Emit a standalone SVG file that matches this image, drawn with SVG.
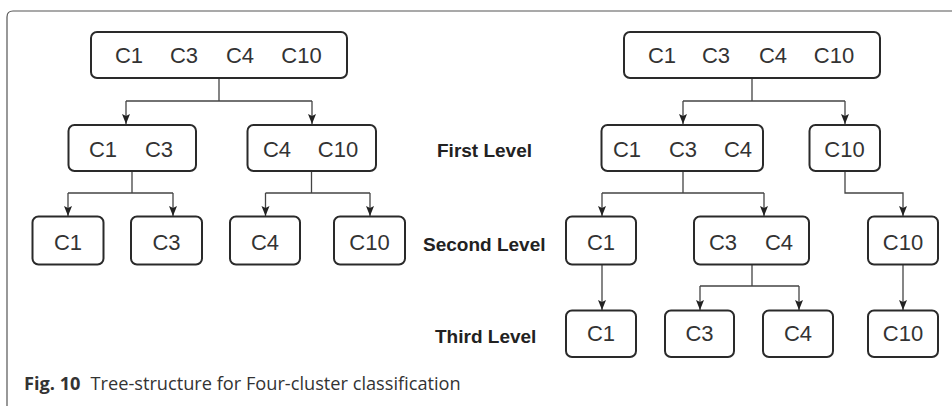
<svg xmlns="http://www.w3.org/2000/svg" width="952" height="406" viewBox="0 0 952 406">
  <style>
    .box { fill: #fff; stroke: #2a2a2a; stroke-width: 2; }
    .lbl { font-family: "Liberation Sans", Arial, sans-serif; font-size: 22px; fill: #333; text-anchor: middle; }
    .lvl { font-family: "Liberation Sans", Arial, sans-serif; font-size: 19px; font-weight: bold; fill: #222; }
    .edge { fill: none; stroke: #444; stroke-width: 1.3; }
    .cap { font-family: "Open Sans", "Noto Sans", sans-serif; font-size: 18.2px; fill: #333; }
  </style>
  <defs>
    <marker id="arr" markerUnits="userSpaceOnUse" markerWidth="10" markerHeight="10" viewBox="0 0 10 10" refX="10" refY="5" orient="auto">
      <path d="M0,1 L10,5 L0,9 L2,5 z" fill="#222"/>
    </marker>
  </defs>
  <rect width="952" height="406" fill="#fff"/>

  <!-- figure frame -->
  <path d="M7,406 V17 Q7,11 13,11 H952" fill="none" stroke="#555" stroke-width="1.2"/>

  <!-- connectors -->
  <g id="connectors">
    <!-- left tree -->
    <path class="edge" d="M219,78 V101 M126,101 H312"/>
    <path class="edge" d="M126,101 V124" marker-end="url(#arr)"/>
    <path class="edge" d="M312,101 V124" marker-end="url(#arr)"/>
    <path class="edge" d="M132,171 V193 M68,193 H173"/>
    <path class="edge" d="M68,193 V216" marker-end="url(#arr)"/>
    <path class="edge" d="M173,193 V216" marker-end="url(#arr)"/>
    <path class="edge" d="M311.5,171 V193 M265.5,193 H370"/>
    <path class="edge" d="M265.5,193 V216" marker-end="url(#arr)"/>
    <path class="edge" d="M370,193 V216" marker-end="url(#arr)"/>
    <!-- right tree -->
    <path class="edge" d="M752,78 V101 M683,101 H845"/>
    <path class="edge" d="M683,101 V124" marker-end="url(#arr)"/>
    <path class="edge" d="M845,101 V124" marker-end="url(#arr)"/>
    <path class="edge" d="M683,171 V193 M602,193 H764"/>
    <path class="edge" d="M602,193 V216" marker-end="url(#arr)"/>
    <path class="edge" d="M764,193 V216" marker-end="url(#arr)"/>
    <path class="edge" d="M845,171 V193 H903 V216" marker-end="url(#arr)"/>
    <path class="edge" d="M602,265 V310" marker-end="url(#arr)"/>
    <path class="edge" d="M752,265 V286 M700,286 H799"/>
    <path class="edge" d="M700,286 V310" marker-end="url(#arr)"/>
    <path class="edge" d="M799,286 V310" marker-end="url(#arr)"/>
    <path class="edge" d="M903,265 V310" marker-end="url(#arr)"/>
  </g>

  <!-- left tree nodes -->
  <g id="L-root">
    <rect class="box" x="91" y="32" width="256" height="46" rx="6"/>
    <text class="lbl" y="63"><tspan x="129">C1</tspan><tspan x="184">C3</tspan><tspan x="240">C4</tspan><tspan x="301.5">C10</tspan></text>
  </g>
  <g id="L-c1c3">
    <rect class="box" x="68.5" y="125" width="127.5" height="46" rx="6"/>
    <text class="lbl" y="157"><tspan x="103">C1</tspan><tspan x="159">C3</tspan></text>
  </g>
  <g id="L-c4c10">
    <rect class="box" x="247.5" y="125" width="128.5" height="46" rx="6"/>
    <text class="lbl" y="157"><tspan x="277">C4</tspan><tspan x="338">C10</tspan></text>
  </g>
  <g id="L-c1">
    <rect class="box" x="32.5" y="216.5" width="71" height="48" rx="6"/>
    <text class="lbl" x="68" y="250">C1</text>
  </g>
  <g id="L-c3">
    <rect class="box" x="131" y="216.5" width="71" height="48" rx="6"/>
    <text class="lbl" x="166.5" y="250">C3</text>
  </g>
  <g id="L-c4">
    <rect class="box" x="230" y="216.5" width="70" height="48" rx="6"/>
    <text class="lbl" x="265" y="250">C4</text>
  </g>
  <g id="L-c10">
    <rect class="box" x="334" y="216.5" width="71" height="48" rx="6"/>
    <text class="lbl" x="369.5" y="250">C10</text>
  </g>

  <!-- level labels -->
  <g id="level-labels">
    <text class="lvl" x="437" y="157">First Level</text>
    <text class="lvl" x="423" y="251">Second Level</text>
    <text class="lvl" x="435" y="343">Third Level</text>
  </g>

  <!-- right tree nodes -->
  <g id="R-root">
    <rect class="box" x="624" y="32" width="256" height="46" rx="6"/>
    <text class="lbl" y="63"><tspan x="662">C1</tspan><tspan x="716">C3</tspan><tspan x="773">C4</tspan><tspan x="834">C10</tspan></text>
  </g>
  <g id="R-c1c3c4">
    <rect class="box" x="601.5" y="125" width="161.5" height="46" rx="6"/>
    <text class="lbl" y="157"><tspan x="627">C1</tspan><tspan x="683">C3</tspan><tspan x="738">C4</tspan></text>
  </g>
  <g id="R-c10-l1">
    <rect class="box" x="809.5" y="125" width="70.5" height="46" rx="6"/>
    <text class="lbl" x="844.5" y="157">C10</text>
  </g>
  <g id="R-c1-l2">
    <rect class="box" x="566" y="216.5" width="70" height="48" rx="6"/>
    <text class="lbl" x="601" y="250">C1</text>
  </g>
  <g id="R-c3c4">
    <rect class="box" x="694" y="216.5" width="115" height="48" rx="6"/>
    <text class="lbl" y="250"><tspan x="723">C3</tspan><tspan x="779">C4</tspan></text>
  </g>
  <g id="R-c10-l2">
    <rect class="box" x="868" y="216.5" width="70" height="48" rx="6"/>
    <text class="lbl" x="903" y="250">C10</text>
  </g>
  <g id="R-c1-l3">
    <rect class="box" x="566" y="310.5" width="70" height="46.5" rx="6"/>
    <text class="lbl" x="601" y="341">C1</text>
  </g>
  <g id="R-c3-l3">
    <rect class="box" x="665" y="310.5" width="69" height="46.5" rx="6"/>
    <text class="lbl" x="699.5" y="341">C3</text>
  </g>
  <g id="R-c4-l3">
    <rect class="box" x="763" y="310.5" width="70" height="46.5" rx="6"/>
    <text class="lbl" x="798" y="341">C4</text>
  </g>
  <g id="R-c10-l3">
    <rect class="box" x="868" y="310.5" width="70" height="46.5" rx="6"/>
    <text class="lbl" x="903" y="341">C10</text>
  </g>

  <!-- caption -->
  <text class="cap" x="24" y="390"><tspan font-weight="bold">Fig. 10</tspan><tspan dx="10">Tree-structure for Four-cluster classification</tspan></text>
</svg>
